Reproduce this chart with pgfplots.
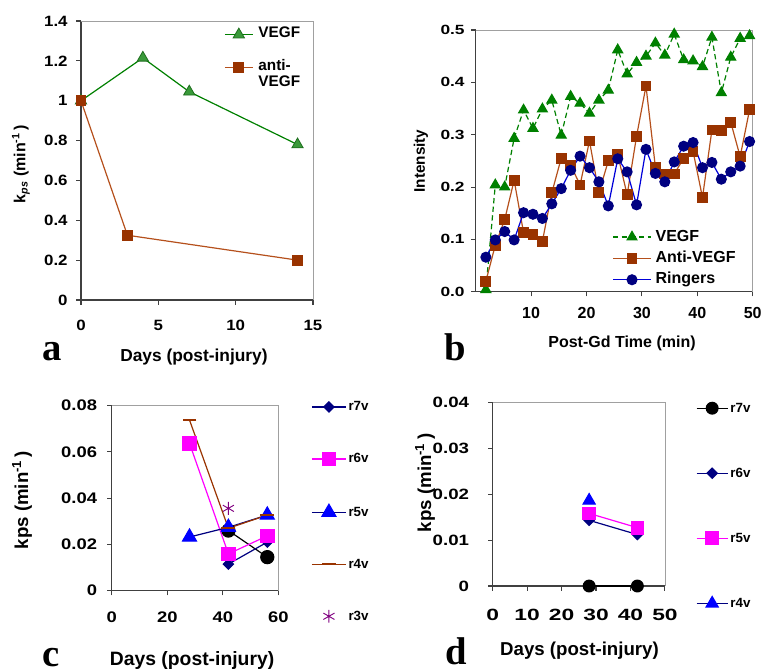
\documentclass[border=0pt]{standalone}
\usepackage{fontspec}
\setmainfont{Liberation Sans}
\newfontfamily\letterfont{Liberation Serif}
\usepackage{pgfplots}
\usepackage{pgfplotstable}
\pgfplotsset{compat=1.18}

\definecolor{vgreen}{HTML}{008000}
\definecolor{vgreenfill}{HTML}{3A9A3A}
\definecolor{vgreendark}{HTML}{1E6E1E}
\definecolor{brn}{HTML}{993300}
\definecolor{brnline}{HTML}{B5501C}
\definecolor{navy}{HTML}{000080}
\definecolor{axgray}{HTML}{404040}
\definecolor{boxgray}{HTML}{A0A0A0}
\definecolor{purp}{HTML}{800080}
\definecolor{mag}{RGB}{255,0,255}
\definecolor{pureblue}{RGB}{0,0,255}

\pgfplotstableread{
t vegf anti ring
1.83 0.004 0.020 0.066
3.53 0.204 0.089 0.099
5.23 0.200 0.138 0.115
6.93 0.293 0.213 0.099
8.63 0.347 0.113 0.151
10.33 0.312 0.110 0.148
12.03 0.349 0.096 0.140
13.73 0.366 0.189 0.168
15.43 0.299 0.255 0.197
17.13 0.373 0.242 0.232
18.83 0.360 0.204 0.259
20.53 0.341 0.288 0.237
22.23 0.366 0.189 0.210
23.93 0.385 0.250 0.164
25.63 0.462 0.262 0.254
27.33 0.416 0.185 0.229
29.03 0.438 0.297 0.166
30.73 0.450 0.393 0.272
32.43 0.475 0.238 0.226
34.13 0.452 0.225 0.210
35.83 0.492 0.225 0.248
37.53 0.443 0.255 0.278
39.23 0.441 0.268 0.285
40.93 0.430 0.180 0.237
42.63 0.486 0.309 0.247
44.33 0.380 0.308 0.215
46.03 0.448 0.324 0.229
47.73 0.484 0.258 0.240
49.43 0.489 0.348 0.287
}\intensity

\pgfplotsset{
  panel/.style={
    scale only axis, clip=false, anchor=south west,
    axis lines=left, axis line style={-, draw=axgray, line width=0.9pt},
    tick align=outside, major tick length=3.5pt,
    tick style={draw=axgray, line width=0.8pt},
    /pgf/number format/assume math mode=true,
    scaled ticks=false,
    legend cell align=left,
    every axis plot/.append style={line width=0.9pt},
    ylabel style={anchor=center},
    xlabel style={anchor=center},
  },
  legimg/.style={legend image code/.code={\draw[mark repeat=2,mark phase=2,##1] plot coordinates {(0pt,0pt) (#1/2,0pt) (#1,0pt)};}},
}
\newcommand{\grayframe}{\draw[boxgray, line width=0.6pt] (rel axis cs:0,1) -- (rel axis cs:1,1) -- (rel axis cs:1,0);}

\begin{document}
\begin{tikzpicture}
\path[use as bounding box] (0,0) rectangle (572.25pt,-503.25pt);

% ---------------- panel a
\begin{axis}[panel,
  at={(60.75pt,-225pt)}, width=174pt, height=209.25pt,
  xmin=0, xmax=15, ymin=0, ymax=1.4,
  xtick={0,5,10,15}, ytick={0,0.2,0.4,0.6,0.8,1,1.2,1.4},
  tick label style={font=\fontsize{11.2}{13}\selectfont\bfseries},
  xticklabel={\scalebox{1.13}[1]{\pgfmathprintnumber{\tick}}},
  yticklabel={\scalebox{1.13}[1]{\pgfmathprintnumber{\tick}}},
  yticklabel style={xshift=-3pt},
  xticklabel style={yshift=-8pt},
  ylabel={k\textsubscript{\itshape ps} (min\textsuperscript{-1}\,)},
  ylabel style={at={(axis description cs:-0.2586,0.487)}, font=\fontsize{12}{14}\selectfont\bfseries},
  xlabel={Days (post-injury)},
  xlabel style={at={(axis description cs:0.487,-0.206)}, font=\fontsize{13}{15}\selectfont\bfseries},
  legimg=21pt,
  legend style={at={(axis description cs:0.599,0.991)}, anchor=north west, draw=none, fill=none,
     font=\fontsize{11.5}{13}\selectfont\bfseries, row sep=0pt, column sep=3.75pt,
     nodes={inner sep=0pt, text height=8.4pt, text depth=3.9pt}},
]
\grayframe
\addplot[color=vgreen, mark=triangle*, mark size=4.9pt, mark options={fill=vgreenfill, draw=vgreendark, line width=0.6pt}]
  coordinates {(0,1) (4,1.215) (7,1.045) (14,0.78)};
\addlegendentry{VEGF}
\addlegendimage{empty legend}\addlegendentry{}
\addplot[color=brnline, mark=square*, mark size=3.6pt, mark options={fill=brn, draw=brn}]
  coordinates {(0,1) (3,0.325) (14,0.2)};
\addlegendentry{anti-}
\addlegendimage{empty legend}\addlegendentry{VEGF}
\end{axis}

% ---------------- panel b
\begin{axis}[panel,
  at={(356.8pt,-218.8pt)}, width=207.75pt, height=196.3pt,
  xmin=0, xmax=50, ymin=0, ymax=0.5,
  xtick={10,20,30,40,50}, ytick={0,0.1,0.2,0.3,0.4,0.5},
  xticklabel style={font=\fontsize{12}{14}\selectfont\bfseries, yshift=-4.7pt},
  yticklabel style={font=\fontsize{10}{12}\selectfont\bfseries, xshift=-1.3pt,
     /pgf/number format/fixed, /pgf/number format/fixed zerofill, /pgf/number format/precision=1},
  yticklabel={\scalebox{1.3}[1]{\pgfmathprintnumber{\tick}}},
  ylabel={Intensity},
  ylabel style={at={(axis description cs:-0.1975,0.4994)}, font=\fontsize{11.5}{13}\selectfont\bfseries},
  xlabel={Post-Gd Time (min)},
  xlabel style={at={(axis description cs:0.528,-0.196)}, font=\fontsize{12}{14}\selectfont\bfseries},
  legimg=28.5pt,
  legend style={at={(axis description cs:0.478,0.2506)}, anchor=north west, draw=none, fill=none,
     font=\fontsize{12}{14}\selectfont\bfseries, row sep=4pt, column sep=3pt,
     nodes={inner sep=0pt, text height=9pt, text depth=3pt}},
]
\grayframe
\addplot[color=vgreen, dash pattern=on 4pt off 2.5pt, mark=triangle*, mark size=4.2pt, mark options={solid, fill=vgreen, draw=vgreen}]
  table[x=t, y=vegf] {\intensity};
\addlegendentry{VEGF}
\addplot[color=brnline, mark=square*, mark size=3.6pt, mark options={fill=brn, draw=brn}]
  table[x=t, y=anti] {\intensity};
\addlegendentry{Anti-VEGF}
\addplot[color=blue!70!navy, mark=*, mark size=3.7pt, mark options={fill=navy, draw=navy}]
  table[x=t, y=ring] {\intensity};
\addlegendentry{Ringers}
\end{axis}

% ---------------- panel c
\begin{axis}[panel,
  at={(83.8pt,-443pt)}, width=125pt, height=138.75pt,
  xmin=0, xmax=60, ymin=0, ymax=0.08,
  xtick={0,20,40,60}, ytick={0,0.02,0.04,0.06,0.08},
  tick label style={font=\fontsize{11.5}{13}\selectfont\bfseries},
  yticklabel style={xshift=-4pt, /pgf/number format/fixed, /pgf/number format/precision=2},
  xticklabel style={yshift=-9pt},
  xticklabel={\scalebox{1.2}[1]{\pgfmathprintnumber{\tick}}},
  yticklabel={\scalebox{1.2}[1]{\pgfmathprintnumber{\tick}}},
  ylabel={kps (min\textsuperscript{-1}\,)},
  ylabel style={at={(axis description cs:-0.538,0.49)}, font=\fontsize{14}{16}\selectfont\bfseries},
  xlabel={Days (post-injury)},
  xlabel style={at={(axis description cs:0.482,-0.377)}, font=\fontsize{14.5}{16}\selectfont\bfseries},
  legimg=25.5pt,
  legend style={at={(axis description cs:1.172,1.045)}, anchor=north west, draw=none, fill=none,
     font=\fontsize{10}{12}\selectfont\bfseries, row sep=29pt, column sep=1.5pt,
     nodes={inner sep=0pt, text height=8pt, text depth=2pt}},
]
\grayframe
\addplot[forget plot, color=black, mark=*, mark size=4.9pt, mark options={fill=black}]
  coordinates {(42,0.026) (56,0.0145)};
\addplot[color=navy, mark=diamond*, mark size=3.8pt, mark options={fill=navy, xscale=1.33}]
  coordinates {(42,0.0115) (56,0.021)};
\addlegendentry{r7v}
\addplot[color=mag, mark=square*, mark size=5pt, mark options={fill=mag}]
  coordinates {(28,0.0637) (42,0.0159) (56,0.0237)};
\addlegendentry{r6v}
\addplot[color=navy, mark=triangle*, mark size=6pt, mark options={fill=pureblue, draw=pureblue}]
  coordinates {(28,0.0232) (42,0.0274) (56,0.0327)};
\addlegendentry{r5v}
\addplot[color=brn, mark=-, mark size=5.2pt, mark options={line width=1.3pt}]
  coordinates {(28,0.0738) (42,0.027) (56,0.0327)};
\addlegendentry{r4v}
\addplot[color=purp, only marks, mark=asterisk, mark size=4.8pt, mark options={line width=0.7pt}]
  coordinates {(42,0.0356)};
\addlegendentry{r3v}
\end{axis}

% ---------------- panel d
\begin{axis}[panel,
  at={(369.5pt,-439.5pt)}, width=129.2pt, height=137.8pt,
  xmin=0, xmax=50, ymin=0, ymax=0.04,
  xtick={0,10,20,30,40,50}, ytick={0,0.01,0.02,0.03,0.04},
  xticklabel style={font=\fontsize{12.2}{14}\selectfont\bfseries, yshift=-10.2pt},
  yticklabel style={font=\fontsize{11.2}{13}\selectfont\bfseries, xshift=-10.7pt, /pgf/number format/fixed, /pgf/number format/precision=2},
  xticklabel={\scalebox{1.4}[1]{\pgfmathprintnumber{\tick}}},
  yticklabel={\scalebox{1.25}[1]{\pgfmathprintnumber{\tick}}},
  ylabel={kps (min\textsuperscript{-1}\,)},
  ylabel style={at={(axis description cs:-0.393,0.561)}, font=\fontsize{14}{16}\selectfont\bfseries},
  xlabel={Days (post-injury)},
  xlabel style={at={(axis description cs:0.504,-0.354)}, font=\fontsize{14}{16}\selectfont\bfseries},
  legimg=23.5pt,
  legend style={at={(axis description cs:1.155,1.02)}, anchor=north west, draw=none, fill=none,
     font=\fontsize{10}{12}\selectfont\bfseries, row sep=38.75pt, column sep=1.5pt,
     nodes={inner sep=0pt, text height=8pt, text depth=2pt}},
]
\grayframe
\addplot[color=black, mark=*, mark size=4.4pt, mark options={fill=black}]
  coordinates {(28,0) (42,0)};
\addlegendentry{r7v}
\addplot[color=navy, mark=diamond*, mark size=3.8pt, mark options={fill=navy, xscale=1.33}]
  coordinates {(28,0.0143) (42,0.0112)};
\addlegendentry{r6v}
\addplot[color=mag, mark=square*, mark size=4.7pt, mark options={fill=mag}]
  coordinates {(28,0.0158) (42,0.0127)};
\addlegendentry{r5v}
\addplot[color=navy, mark=triangle*, mark size=5.2pt, mark options={fill=pureblue, draw=pureblue}]
  coordinates {(28,0.0186)};
\addlegendentry{r4v}
\end{axis}

% panel letters
\node[font=\fontsize{29}{29}\letterfont\bfseries, anchor=base, inner sep=0pt] at (39pt,-270pt) {a};
\node[font=\fontsize{29}{29}\letterfont\bfseries, anchor=base, inner sep=0pt] at (341.6pt,-270pt) {b};
\node[font=\fontsize{29}{29}\letterfont\bfseries, anchor=base, inner sep=0pt] at (38.6pt,-499.5pt) {c};
\node[font=\fontsize{29}{29}\letterfont\bfseries, anchor=base, inner sep=0pt] at (342pt,-498.5pt) {d};
\end{tikzpicture}
\end{document}
